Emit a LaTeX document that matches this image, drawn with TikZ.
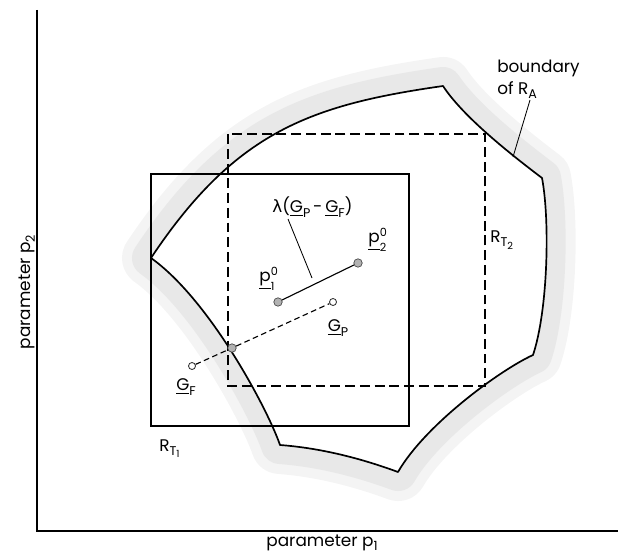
\documentclass[tikz,border=0pt]{standalone}
\usepackage{amsmath}
\usepackage{fontspec}
\setmainfont{Poppins}
\newfontfamily\greekfont{DejaVu Sans}
\usepackage{tikz}

\newcommand\lowsub[1]{\raisebox{-0.45ex}{\fontsize{9pt}{9pt}\selectfont #1}}
\newcommand\tinysub[1]{\raisebox{-0.35ex}{\fontsize{7pt}{7pt}\selectfont #1}}

\begin{document}
\begin{tikzpicture}[
  x=0.025cm, y=-0.025cm,
  font=\fontsize{12pt}{15.6pt}\selectfont,
  axis/.style={line width=1pt},
  region/.style={line width=1.2pt, line join=round},
  bandout/.style={line width=1.45cm, gray!9, line join=round},
  bandin/.style={line width=0.95cm, gray!18, line join=round},
  tbox/.style={line width=0.9pt},
  tboxd/.style={line width=0.9pt, dash pattern=on 7pt off 3.5pt},
  gline/.style={line width=0.8pt, dash pattern=on 4pt off 2.5pt},
  lead/.style={line width=0.6pt},
  fdot/.style={circle, draw=black!70, fill=gray!60, inner sep=0pt, minimum size=6pt, line width=0.5pt},
  odot/.style={circle, draw=black!80, fill=white, inner sep=0pt, minimum size=5pt, line width=0.6pt},
  lbl/.style={inner sep=0pt},
]
\useasboundingbox (0,0) rectangle (622,556);

\def\boundarypath{(151,258) .. controls (235,132) and (310,105) .. (443,86)
  .. controls (462,115) and (505,150) .. (542,178)
  .. controls (550,220) and (548,310) .. (533,355)
  .. controls (500,370) and (425,425) .. (398,472)
  .. controls (360,458) and (320,448) .. (280,445)
  .. controls (268,410) and (210,300) .. cycle}

%% ===== Shaded band of R_A =====
\draw[bandout] \boundarypath;
\draw[bandin] \boundarypath;
\fill[white] \boundarypath;

%% ===== Axes =====
\coordinate (org) at (37,531);
\coordinate (ytop) at (37,10);
\coordinate (xend) at (618,531);
\draw[axis] (ytop) -- (org) -- (xend);
\node[lbl] (xlab) at (322,543) {parameter p\lowsub{1}};
\node[lbl, rotate=90] (ylab) at (27,292) {parameter p\lowsub{2}};

%% ===== Tolerance regions =====
\draw[tbox] (151,174) rectangle (409,426);
\draw[tboxd] (228,134) rectangle (485,386);
\node[lbl, anchor=base west] (rtone) at (159,451) {R\lowsub{T\tinysub{1}}};
\node[lbl, anchor=west] (rttwo) at (490,240) {R\lowsub{T\tinysub{2}}};

%% ===== Boundary of R_A =====
\draw[region] \boundarypath;
\node[lbl, anchor=north west, align=left] (bnd) at (497,60)
  {boundary\\of R\lowsub{A}};
\coordinate (bndtip) at (530,100);
\coordinate (bndfoot) at (513,157);
\draw[lead] (bndtip) -- (bndfoot);

%% ===== Points =====
\node[fdot] (pone) at (278,302) {};
\node[fdot] (ptwo) at (358,263) {};
\node[odot] (gp) at (333,302) {};
\node[odot] (gf) at (192,366) {};
\node[fdot] (cut) at (232,348) {};

\draw[line width=0.8pt] (pone) -- (ptwo);
\draw[gline] (gf) -- (cut) -- (gp);

\node[lbl] (ponelab) at (269,279) {$\underline{\text{p}}^{\text{0}}_{\text{1}}$};
\node[lbl] (ptwolab) at (378,240) {$\underline{\text{p}}^{\text{0}}_{\text{2}}$};
\node[lbl] (gplab) at (338,328) {\underline{G}\lowsub{P}};
\node[lbl] (gflab) at (186,387) {\underline{G}\lowsub{F}};

%% ===== Difference label =====
\node[lbl, anchor=base west] (lam) at (272,213)
  {{\greekfont λ}(\underline{G}\lowsub{P}\,-\,\underline{G}\lowsub{F})};
\coordinate (lamfoot) at (312,278);
\draw[lead] (288,219) -- (lamfoot);

\end{tikzpicture}
\end{document}
